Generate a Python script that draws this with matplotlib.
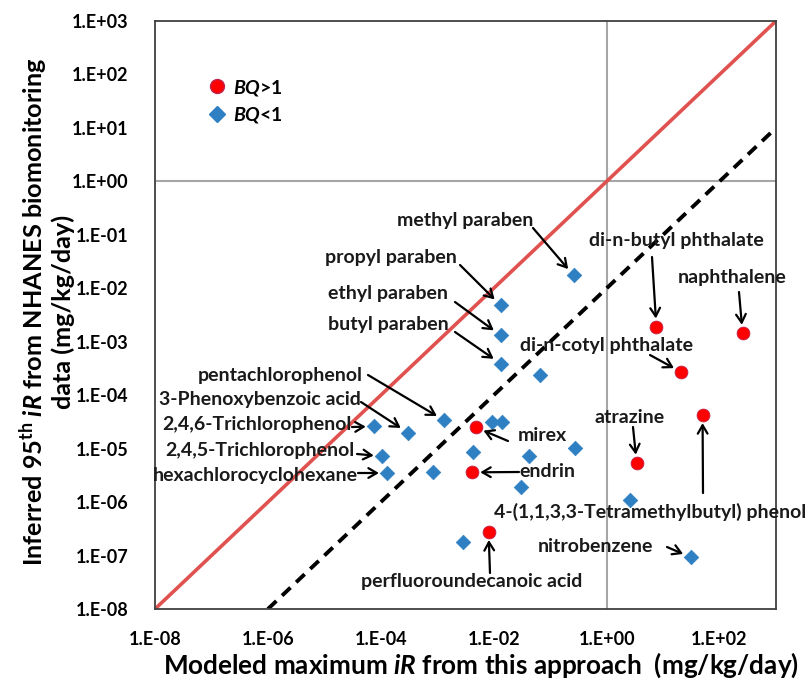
import matplotlib
matplotlib.use("Agg")
import matplotlib.pyplot as plt
from matplotlib.lines import Line2D

plt.rcParams['font.family'] = ['Lato', 'DejaVu Sans']
plt.rcParams['font.weight'] = 'bold'
plt.rcParams['mathtext.fontset'] = 'custom'
plt.rcParams['mathtext.rm'] = 'Lato:bold'
plt.rcParams['mathtext.it'] = 'Lato:bold:italic'
plt.rcParams['mathtext.bf'] = 'Lato:bold'

# ---------------- data ----------------
# BQ<1 (blue diamonds)
lo_x = [0.26, 0.0132, 0.0132, 0.0132, 0.065, 0.00132, 0.0003, 7.6e-5, 1.05e-4, 1.3e-4,
        8.5e-4, 0.0095, 0.0138, 0.0043, 0.042, 0.28, 0.031, 0.0029, 2.6, 31]
lo_y = [0.0174, 0.0048, 0.00132, 0.00039, 0.000235, 3.4e-5, 2.0e-5, 2.6e-5, 7.2e-6, 3.5e-6,
        3.6e-6, 3.2e-5, 3.2e-5, 8.7e-6, 7.2e-6, 1.02e-5, 1.9e-6, 1.8e-7, 1.1e-6, 9.3e-8]
# BQ>1 (red circles)
hi_x = [0.0048, 0.0041, 0.0081, 3.4, 50, 21, 7.6, 256]
hi_y = [2.5e-5, 3.6e-6, 2.8e-7, 5.4e-6, 4.3e-5, 2.7e-4, 1.9e-3, 1.45e-3]

# labels: (text, group, index)
label_names = ["methyl paraben", "propyl paraben", "ethyl paraben", "butyl paraben",
               "pentachlorophenol", "3-Phenoxybenzoic acid", "2,4,6-Trichlorophenol",
               "2,4,5-Trichlorophenol", "hexachlorocyclohexane", "nitrobenzene",
               "mirex", "endrin", "perfluoroundecanoic acid", "atrazine",
               "4-(1,1,3,3-Tetramethylbutyl) phenol", "di-n-cotyl phthalate",
               "di-n-butyl phthalate", "naphthalene"]
label_group = ["lo"] * 10 + ["hi"] * 8
label_index = [0, 1, 2, 3, 5, 6, 7, 8, 9, 19, 0, 1, 2, 3, 4, 5, 6, 7]

xticks = [1e-8, 1e-6, 1e-4, 1e-2, 1e0, 1e2]
xtick_labels = ["1.E-08", "1.E-06", "1.E-04", "1.E-02", "1.E+00", "1.E+02"]
yticks = [10.0 ** k for k in range(-8, 4)]
ytick_labels = ["1.E-08", "1.E-07", "1.E-06", "1.E-05", "1.E-04", "1.E-03", "1.E-02",
                "1.E-01", "1.E+00", "1.E+01", "1.E+02", "1.E+03"]

# layout (pixel positions of text anchor and arrow tail in the 809x683 image)
label_layout = [
    # (text x, text y, ha, tail x, tail y)
    (465, 220, 'center', 533, 228),
    (391, 257, 'center', 460, 265),
    (388, 293, 'center', 455, 302),
    (388, 324, 'center', 455, 332),
    (363, 375, 'right', 368, 375),
    (361, 399, 'right', 361, 402),
    (352, 424, 'right', 352, 427),
    (355, 450, 'right', 357, 454),
    (358, 475, 'right', 358, 473),
    (595, 546, 'center', 667, 547),
    (518, 435, 'left', 508, 441),
    (519, 471, 'left', 519, 472),
    (472, 581, 'center', 490, 573),
    (630, 417, 'center', 633, 427),
    (806, 512, 'right', 703, 493),
    (607, 345, 'center', 650, 355),
    (676, 240, 'center', 652, 257),
    (732, 277, 'center', 739, 292),
]

W, H = 809, 683
L, R, T, B = 155, 776, 21, 609

fig = plt.figure(figsize=(W / 100, H / 100), dpi=100)
ax = fig.add_axes([L / W, 1 - B / H, (R - L) / W, (B - T) / H])
ax.set_xscale('log')
ax.set_yscale('log')
ax.set_xlim(1e-8, 1e3)
ax.set_ylim(1e-8, 1e3)

def px2ax(px, py):
    return ((px - L) / (R - L), (B - py) / (B - T))

ax.axvline(1, color='#a6a6a6', lw=1.5, zorder=1)
ax.axhline(1, color='#a6a6a6', lw=1.5, zorder=1)

lims = [1e-8, 1e3]
ax.plot(lims, lims, color='#e0524f', lw=2.6, zorder=2)
ax.plot([1e-6, 1e3], [1e-8, 1e1], color='black', lw=2.8, ls=(0, (3, 2)), zorder=2)

ax.scatter(lo_x, lo_y, marker='D', s=55, color='#2f80c3', edgecolors='#2f80c3',
           linewidths=0.5, zorder=4)
ax.scatter(hi_x, hi_y, marker='o', s=85, color='#ff0000', edgecolors='#c0204a',
           linewidths=0.6, zorder=5)

for name, grp, idx, lay in zip(label_names, label_group, label_index, label_layout):
    tx, ty, ha, ax_x, ax_y = lay
    px = lo_x[idx] if grp == "lo" else hi_x[idx]
    py = lo_y[idx] if grp == "lo" else hi_y[idx]
    ax.text(*px2ax(tx, ty), name, transform=ax.transAxes, ha=ha, va='center',
            fontsize=14, fontweight='bold', color='#1a1a1a', zorder=6, clip_on=False)
    ax.annotate("", xy=(px, py), xycoords='data',
                xytext=px2ax(ax_x, ax_y), textcoords='axes fraction',
                arrowprops=dict(arrowstyle='->,head_length=0.6,head_width=0.35',
                                color='black', lw=1.6, shrinkA=0, shrinkB=6),
                zorder=6)

ax.set_xticks(xticks)
ax.set_xticklabels(xtick_labels)
ax.set_yticks(yticks)
ax.set_yticklabels(ytick_labels)
ax.minorticks_off()
ax.tick_params(axis='both', length=0, labelsize=13)
ax.tick_params(axis='x', pad=16)
ax.tick_params(axis='y', pad=19)
for lab in ax.get_xticklabels() + ax.get_yticklabels():
    lab.set_fontweight('bold')

for s in ax.spines.values():
    s.set_color('#404040')
    s.set_linewidth(1.3)

xl = ax.set_xlabel(r"Modeled maximum $iR$ from this approach  (mg/kg/day)",
                   fontsize=18.8, fontweight='bold')
xl.set_va('center')
ax.xaxis.set_label_coords(*px2ax(481, 665))
yl = ax.set_ylabel("Inferred 95$^{\\mathrm{th}}$ $iR$ from NHANES biomonitoring\ndata (mg/kg/day)",
                   fontsize=18.2, fontweight='bold', linespacing=1.15)
yl.set_va('center')
ax.yaxis.set_label_coords(*px2ax(46, 312))

handles = [Line2D([], [], marker='o', ls='none', markersize=10, color='#ff0000',
                  markeredgecolor='#c0204a'),
           Line2D([], [], marker='D', ls='none', markersize=8, color='#2f80c3')]
leg = ax.legend(handles, ["$BQ$>1", "$BQ$<1"], loc='upper left',
                bbox_to_anchor=px2ax(190, 60), frameon=False, fontsize=14,
                handletextpad=0.3, labelspacing=0.4, handlelength=1.0)

fig.savefig("out.png", dpi=100)
